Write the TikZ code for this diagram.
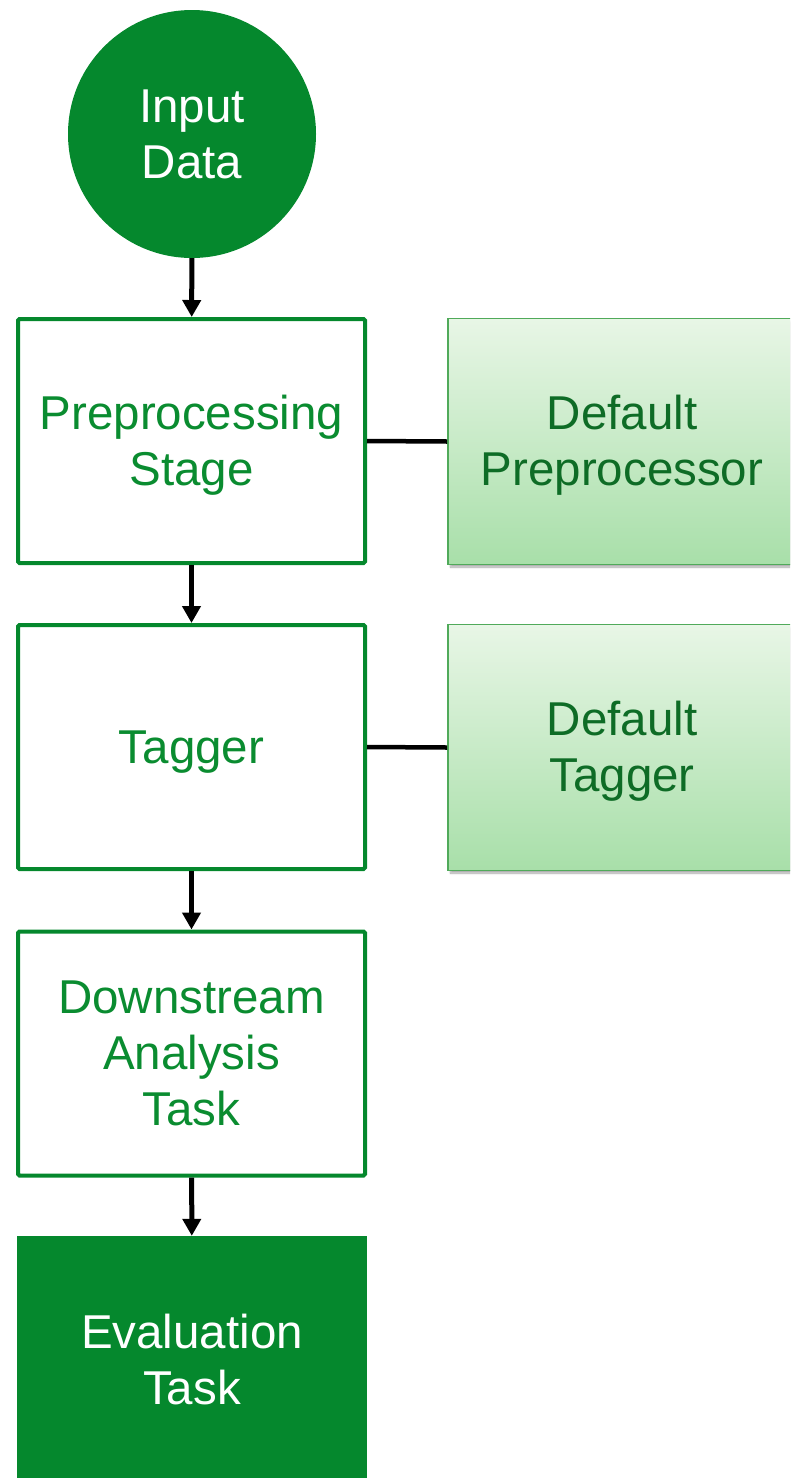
\documentclass[tikz,border=0pt]{standalone}
\usepackage{fontspec}
\setmainfont{Liberation Sans}
\usetikzlibrary{arrows.meta,shadows.blur}

\definecolor{mainGreen}{RGB}{5,136,45}
\definecolor{textGreen}{RGB}{10,140,48}
\definecolor{darkText}{RGB}{14,108,38}
\definecolor{lightTop}{RGB}{232,246,230}
\definecolor{lightBot}{RGB}{168,223,169}
\definecolor{lightEdge}{RGB}{80,170,90}

% a full-height line strut, so every line box has the font's ascent and descent
\newcommand\lnstrut{\rule[-0.212em]{0pt}{1.117em}}

\tikzset{
  lbl/.style={font=\fontsize{47.5}{56}\selectfont, align=center},
  startnode/.style={circle, fill=mainGreen, draw=none, minimum size=248pt,
    inner sep=0pt, text=white, lbl},
  stagebox/.style={rectangle, draw=mainGreen, line width=4pt, fill=white,
    rounded corners=1.5pt, minimum width=347pt, minimum height=244pt,
    inner sep=0pt, text=textGreen, lbl},
  endbox/.style={rectangle, fill=mainGreen, draw=none, minimum width=350pt,
    minimum height=248pt, inner sep=0pt, text=white, lbl},
  implbox/.style={rectangle, draw=lightEdge, line width=1.6pt,
    top color=lightTop, bottom color=lightBot, minimum width=348pt,
    minimum height=246pt, inner sep=0pt, text=darkText, lbl,
    blur shadow={shadow xshift=2.5pt, shadow yshift=-2.5pt,
      shadow blur steps=6, shadow opacity=35, shadow blur radius=2pt}},
  flow/.style={line width=5pt, black,
    -{Triangle[width=18pt,length=17pt]}},
  link/.style={line width=4.5pt, black},
}

\begin{document}
\begin{tikzpicture}[x=1pt, y=-1pt]
  \useasboundingbox (0,0) rectangle (790,1478);
  \clip (0,0) rectangle (790,1478);

  % main pipeline
  \node[startnode] (input) at (192,134) {\lnstrut Input\\\lnstrut Data};
  \node[stagebox] (pre)  at (191.5,441)  {\lnstrut Preprocessing\\\lnstrut Stage};
  \node[stagebox] (tag)  at (191.5,747)  {\lnstrut Tagger};
  \node[stagebox] (down) at (191.5,1053.5)
    {\lnstrut Downstream\\\lnstrut Analysis\\\lnstrut Task};
  \node[endbox]   (eval) at (192,1360)   {\lnstrut Evaluation\\\lnstrut Task};

  % default implementations
  \node[implbox] (dpre) at (622,441.5) {\lnstrut Default\\\lnstrut Preprocessor};
  \node[implbox] (dtag) at (622,747.5) {\lnstrut Default\\\lnstrut Tagger};

  % connectors
  \draw[flow] (input) -- (pre);
  \draw[flow] (pre) -- (tag);
  \draw[flow] (tag) -- (down);
  \draw[flow] (down) -- (eval);
  \draw[link] (pre.east) -- (dpre.west);
  \draw[link] (tag.east) -- (dtag.west);
\end{tikzpicture}
\end{document}
